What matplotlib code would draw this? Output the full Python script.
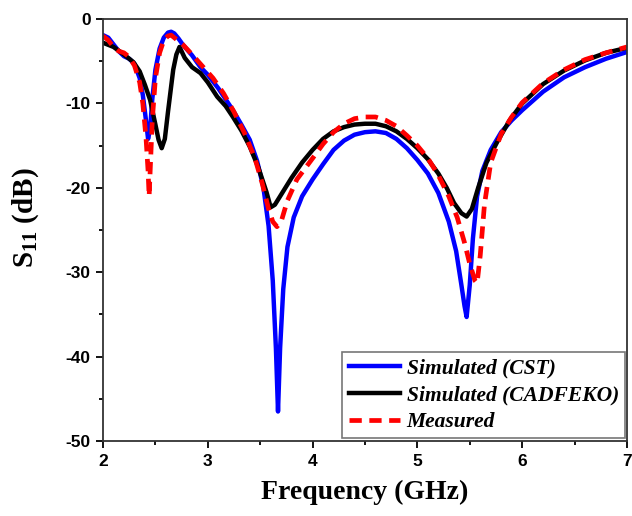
import matplotlib
matplotlib.use("Agg")
import matplotlib.pyplot as plt
from matplotlib.ticker import MultipleLocator

# values (frequency in GHz, S11 in dB)
cst_f = [2.00, 2.05, 2.10, 2.15, 2.20, 2.25, 2.30, 2.35, 2.38, 2.41, 2.43, 2.45,
         2.47, 2.50, 2.54, 2.58, 2.62, 2.65, 2.68, 2.72, 2.76, 2.85, 2.93, 3.00,
         3.10, 3.24, 3.32, 3.40, 3.47, 3.53, 3.58, 3.62, 3.65, 3.67, 3.69, 3.72,
         3.76, 3.82, 3.90, 4.00, 4.10, 4.20, 4.30, 4.40, 4.50, 4.60, 4.70, 4.80,
         4.90, 5.00, 5.10, 5.20, 5.30, 5.37, 5.42, 5.45, 5.47, 5.50, 5.53, 5.57,
         5.62, 5.70, 5.80, 5.90, 6.00, 6.20, 6.40, 6.60, 6.80, 7.00]
cst_db = [-1.9, -2.2, -3.0, -3.8, -4.4, -4.7, -5.3, -7.0, -9.0, -12.0, -14.2, -13.0,
          -9.5, -6.0, -3.5, -2.2, -1.6, -1.5, -1.7, -2.3, -3.0, -4.3, -5.7, -6.6,
          -8.2, -10.8, -12.5, -14.3, -16.8, -19.9, -24.5, -31.0, -39.0, -46.5, -39.0, -32.0,
          -27.0, -23.5, -21.0, -19.0, -17.2, -15.5, -14.4, -13.7, -13.4, -13.3, -13.5, -14.2,
          -15.3, -16.7, -18.3, -20.6, -24.0, -27.5, -31.5, -34.0, -35.3, -31.5, -26.0, -21.0,
          -18.0, -15.5, -13.4, -12.0, -10.8, -8.6, -6.9, -5.7, -4.7, -3.9]

feko_f = [2.00, 2.10, 2.20, 2.29, 2.35, 2.40, 2.45, 2.50, 2.53, 2.56, 2.59, 2.62,
          2.64, 2.67, 2.70, 2.73, 2.78, 2.85, 2.93, 3.00, 3.09, 3.17, 3.24, 3.32,
          3.40, 3.48, 3.56, 3.60, 3.64, 3.70, 3.80, 3.90, 4.00, 4.10, 4.20, 4.30,
          4.40, 4.50, 4.60, 4.70, 4.80, 4.90, 5.00, 5.10, 5.20, 5.28, 5.35, 5.42,
          5.47, 5.52, 5.58, 5.66, 5.76, 5.88, 6.00, 6.20, 6.40, 6.60, 6.80, 7.00]
feko_db = [-2.8, -3.3, -4.2, -5.1, -6.2, -7.8, -9.6, -12.5, -14.3, -15.3, -14.2, -11.0,
           -9.0, -6.0, -4.2, -3.3, -4.6, -5.7, -6.4, -7.5, -9.2, -10.3, -11.6, -13.2,
           -15.1, -17.5, -20.5, -22.3, -22.0, -20.8, -18.8, -17.0, -15.5, -14.2, -13.3, -12.8,
           -12.5, -12.4, -12.4, -12.7, -13.3, -14.2, -15.3, -16.6, -18.3, -20.0, -21.8, -23.0,
           -23.4, -22.5, -20.0, -17.0, -14.6, -12.0, -10.0, -7.7, -6.1, -4.9, -4.0, -3.4]

meas_f = [2.00, 2.05, 2.10, 2.15, 2.20, 2.25, 2.30, 2.35, 2.38, 2.41, 2.43, 2.44,
          2.45, 2.47, 2.50, 2.54, 2.58, 2.62, 2.65, 2.70, 2.76, 2.85, 2.95, 3.05,
          3.15, 3.25, 3.35, 3.45, 3.52, 3.58, 3.62, 3.66, 3.70, 3.76, 3.85, 4.00,
          4.10, 4.20, 4.30, 4.40, 4.50, 4.60, 4.70, 4.80, 4.90, 5.00, 5.10, 5.20,
          5.30, 5.38, 5.45, 5.50, 5.55, 5.57, 5.60, 5.64, 5.70, 5.80, 5.90, 6.00,
          6.20, 6.40, 6.60, 6.80, 7.00]
meas_db = [-2.0, -2.5, -3.3, -3.8, -4.0, -4.5, -5.5, -7.5, -10.0, -14.0, -18.0, -21.0,
           -18.0, -12.0, -7.0, -4.0, -2.5, -2.0, -1.9, -2.4, -3.0, -4.2, -5.6, -7.0,
           -8.8, -11.0, -13.5, -16.5, -19.5, -22.5, -24.0, -24.6, -24.0, -21.5, -19.0, -16.5,
           -14.8, -13.4, -12.4, -11.8, -11.6, -11.6, -12.0, -12.7, -13.8, -15.0, -16.5, -18.5,
           -21.0, -23.5, -26.5, -29.0, -31.0, -31.3, -28.0, -22.0, -17.0, -13.6, -11.6, -9.9,
           -7.6, -6.0, -4.8, -4.0, -3.3]

labels = ["Simulated (CST)", "Simulated (CADFEKO)", "Measured"]

plt.rcParams["axes.unicode_minus"] = False
plt.rcParams["mathtext.fontset"] = "custom"
plt.rcParams["mathtext.rm"] = "Liberation Serif:bold"
plt.rcParams["mathtext.bf"] = "Liberation Serif:bold"

fig = plt.figure(figsize=(6.32, 5.16), dpi=100)
ax = fig.add_axes([0.163, 0.1453, 0.829, 0.8177])

ax.plot(cst_f, cst_db, color="#0000ff", lw=3.2, label=labels[0])
ax.plot(feko_f, feko_db, color="black", lw=3.2, label=labels[1])
ax.plot(meas_f, meas_db, color="#ff0000", lw=3.4, ls=(0, (2.6, 1.6)), label=labels[2])

ax.set_xlim(2, 7)
ax.set_ylim(-50, 0)
ax.xaxis.set_major_locator(MultipleLocator(1))
ax.xaxis.set_minor_locator(MultipleLocator(0.5))
ax.yaxis.set_major_locator(MultipleLocator(10))
ax.yaxis.set_minor_locator(MultipleLocator(5))
ax.tick_params(which="major", direction="out", length=5, width=1.3, top=False, right=False, pad=4)
ax.tick_params(which="minor", direction="out", length=3, width=1.3, top=False, right=False)
for lab in ax.get_xticklabels() + ax.get_yticklabels():
    lab.set_fontfamily("Liberation Sans")
    lab.set_fontweight("bold")
    lab.set_fontsize(12.5)
for sp in ax.spines.values():
    sp.set_linewidth(1.3)
    sp.set_color("#333333")

ax.set_xlabel("Frequency (GHz)", fontfamily="Liberation Serif", fontweight="bold",
              fontsize=20, labelpad=8)
ax.set_ylabel(r"S$_{11}$ (dB)", fontfamily="Liberation Serif", fontweight="bold",
              fontsize=21)
ax.yaxis.set_label_coords(-0.118, 0.53)

leg = ax.legend(loc="lower right", bbox_to_anchor=(0.997, 0.006), borderaxespad=0,
                fancybox=False, edgecolor="#555555", handlelength=2.4,
                prop={"family": "Liberation Serif", "weight": "bold",
                      "style": "italic", "size": 15.5},
                labelspacing=0.3, handletextpad=0.3, borderpad=0.3)
leg.get_frame().set_linewidth(1.2)

fig.savefig("out.png", dpi=100)
